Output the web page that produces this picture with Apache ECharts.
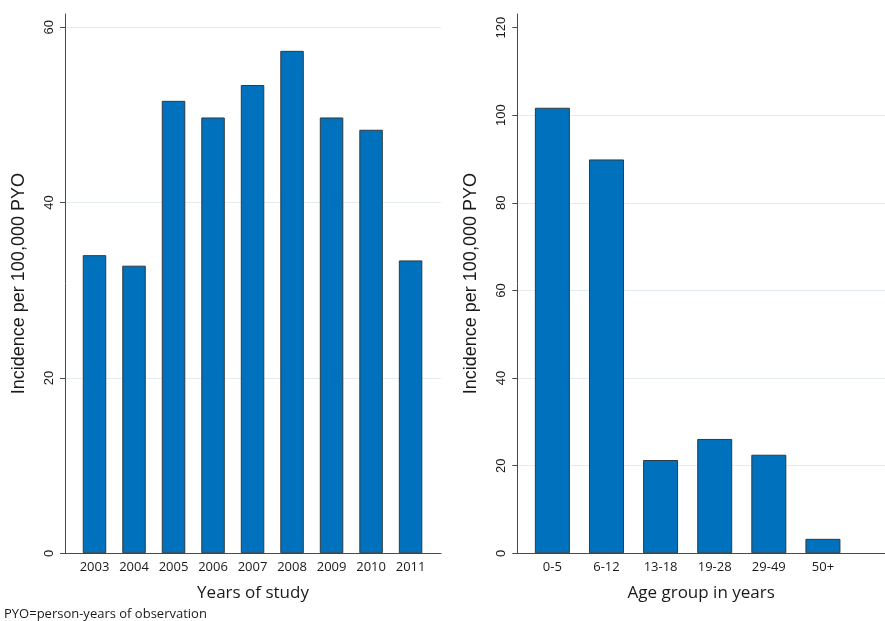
<!DOCTYPE html>
<html>
<head>
<meta charset="utf-8">
<script src="https://cdn.jsdelivr.net/npm/echarts@6/dist/echarts.min.js"></script>
<style>
html,body{margin:0;padding:0;background:#fff;}
#chart{width:885px;height:621px;}
</style>
</head>
<body>
<div id="chart"></div>
<script>
// ---- Data ----
const years = ['2003','2004','2005','2006','2007','2008','2009','2010','2011'];
const yearValues = [34.0, 32.8, 51.6, 49.7, 53.4, 57.3, 49.7, 48.3, 33.4];
const ageGroups = ['0-5','6-12','13-18','19-28','29-49','50+'];
const ageValues = [101.7, 89.9, 21.3, 26.1, 22.5, 3.3];
const leftTicks = [0, 20, 40, 60];
const rightTicks = [0, 20, 40, 60, 80, 100, 120];
const footnote = 'PYO=person-years of observation';

const barColor = '#0071bc';
const barBorder = '#2e3b3f';
const gridColor = '#e3edf0';
const axisColor = '#4a4a4a';
const textColor = '#1a1a1a';

function idx(arr){ return arr.map((v,i)=>[i,v]); }

const chart = echarts.init(document.getElementById('chart'), null, {renderer:'canvas'});

function yAxisCfg(gridIndex, max, ticks, lineColors){
  return {
    type:'value', gridIndex, min:0, max, interval:20,
    axisLine:{show:true, onZero:false, lineStyle:{color:axisColor, width:1}},
    axisTick:{show:true, length:5, lineStyle:{color:axisColor}, customValues:ticks},
    axisLabel:{rotate:90, margin:9, fontFamily:'Liberation Sans', fontSize:13, color:textColor, customValues:ticks},
    splitLine:{show:true, lineStyle:{color:lineColors, width:1}},
    name:'Incidence per 100,000 PYO', nameLocation:'middle', nameGap:37,
    nameTextStyle:{fontFamily:'Liberation Sans', fontSize:18, color:textColor}
  };
}
function xAxisCfg(gridIndex, min, max, cats, name){
  return {
    type:'value', gridIndex, min, max,
    axisLine:{show:true, onZero:false, lineStyle:{color:axisColor, width:1}},
    axisTick:{show:false},
    splitLine:{show:false},
    axisLabel:{customValues:cats.map((c,i)=>i), formatter:(v)=>cats[Math.round(v)],
      margin:7, fontFamily:'Open Sans', fontSize:13, color:textColor},
    name, nameLocation:'middle', nameGap:31,
    nameTextStyle:{fontFamily:'Open Sans', fontSize:17, color:textColor}
  };
}

chart.setOption({
  animation:false,
  backgroundColor:'#fff',
  title:{text:footnote, left:4, bottom:0, padding:0, textStyle:{fontFamily:'Open Sans', fontSize:13, fontWeight:'normal', color:textColor}},
  grid:[
    {left:65, top:14, width:376, bottom:67.7},
    {left:517.3, top:14, width:405.7, bottom:67.7}
  ],
  xAxis:[
    xAxisCfg(0, -0.747, 8.77, years, 'Years of study'),
    xAxisCfg(1, -0.648, 6.147, ageGroups, 'Age group in years')
  ],
  yAxis:[
    yAxisCfg(0, 61.5, leftTicks, ['transparent', gridColor, gridColor, gridColor, 'transparent']),
    yAxisCfg(1, 123.1, rightTicks, ['transparent', gridColor, gridColor, gridColor, gridColor, gridColor, 'transparent', 'transparent'])
  ],
  series:[
    {type:'bar', xAxisIndex:0, yAxisIndex:0, data:idx(yearValues), barWidth:23.5,
      itemStyle:{color:barColor, borderColor:barBorder, borderWidth:1}},
    {type:'bar', xAxisIndex:1, yAxisIndex:1, data:idx(ageValues), barWidth:35,
      itemStyle:{color:barColor, borderColor:barBorder, borderWidth:1}}
  ]
});
</script>
</body>
</html>
